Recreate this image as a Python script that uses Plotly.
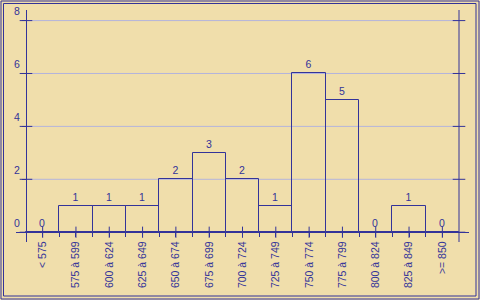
import plotly.graph_objects as go

# ---- data ----
categories = ["< 575", "575 à 599", "600 à 624", "625 à 649", "650 à 674",
              "675 à 699", "700 à 724", "725 à 749", "750 à 774", "775 à 799",
              "800 à 824", "825 à 849", ">= 850"]
counts = [0, 1, 1, 1, 2, 3, 2, 1, 6, 5, 0, 1, 0]
y_ticks = [0, 2, 4, 6, 8]

# ---- style ----
BLUE = "#333399"
GRID = "#B4B4DC"
BG = "#F0DEAB"
FONT = dict(family="Liberation Sans, Arial, sans-serif", size=10.5, color=BLUE)

W, H = 480, 300
ML, MR, MT, MB = 16, 11, 10, 58
PW, PH = W - ML - MR, H - MT - MB

n = len(categories)
idx = list(range(n))
x_lo, x_hi = -0.5, n - 0.5
x_range = [x_lo - 0.3, x_hi + 0.3]
y_range = [-0.37, 8.4]


def frac(v, rng):
    return (v - rng[0]) / (rng[1] - rng[0])


def px_x(p):
    return (p - ML) / PW


def px_y(p):
    return (H - MB - p) / PH


fig = go.Figure()

fig.add_trace(go.Bar(
    x=idx, y=counts, width=1,
    marker=dict(color="rgba(0,0,0,0)", line=dict(color=BLUE, width=1)),
    text=[str(c) for c in counts], textposition="outside",
    textfont=FONT, cliponaxis=False, showlegend=False, hoverinfo="skip",
))

# tick crosses on both vertical axes
fig.add_trace(go.Scatter(
    x=[x_lo] * len(y_ticks) + [x_hi] * len(y_ticks), y=y_ticks * 2,
    mode="markers",
    marker=dict(symbol="line-ew", size=9, line=dict(color=BLUE, width=1)),
    showlegend=False, hoverinfo="skip", cliponaxis=False,
))
# tick crosses on the category axis
fig.add_trace(go.Scatter(
    x=idx, y=[0] * n, mode="markers",
    marker=dict(symbol="line-ns", size=8, line=dict(color=BLUE, width=1)),
    showlegend=False, hoverinfo="skip", cliponaxis=False,
))

shapes = []
for t in y_ticks[1:]:
    shapes.append(dict(type="line", xref="x", yref="y", x0=x_lo, x1=x_hi, y0=t, y1=t,
                       line=dict(color=GRID, width=1), layer="below"))
# right axis line
shapes.append(dict(type="line", xref="x", yref="paper", x0=x_hi, x1=x_hi, y0=0, y1=1,
                   line=dict(color=BLUE, width=1)))
# double frame
for (a, b, c, d) in [(1, 1, 479, 299), (3.5, 3.5, 476, 296)]:
    shapes.append(dict(type="rect", xref="paper", yref="paper",
                       x0=px_x(a), x1=px_x(c), y0=px_y(d), y1=px_y(b),
                       line=dict(color=BLUE, width=1), fillcolor="rgba(0,0,0,0)"))

fig.update_layout(
    width=W, height=H,
    margin=dict(l=ML, r=MR, t=MT, b=MB, pad=0, autoexpand=False),
    paper_bgcolor=BG, plot_bgcolor=BG,
    font=FONT, bargap=0, showlegend=False,
    shapes=shapes,
    xaxis=dict(
        range=x_range, anchor="free", position=frac(0, y_range),
        showline=True, linecolor=BLUE, linewidth=1, automargin=False,
        tickmode="array", tickvals=idx, ticktext=categories, tickangle=-90,
        ticks="outside", ticklen=4, tickcolor=BLUE, tickfont=FONT,
        showgrid=False, zeroline=False,
        minor=dict(tickmode="array", tickvals=[i + 0.5 for i in range(n - 1)],
                   ticks="outside", ticklen=4, tickcolor=BLUE, showgrid=False),
    ),
    yaxis=dict(
        range=y_range, anchor="free", position=frac(x_lo, x_range),
        showline=True, linecolor=BLUE, linewidth=1, automargin=False,
        tickmode="array", tickvals=y_ticks,
        ticks="outside", ticklen=4, tickcolor=BLUE, tickfont=FONT,
        ticklabelshift=-9,
        showgrid=False, zeroline=False,
    ),
)

fig.write_html("out.html")
